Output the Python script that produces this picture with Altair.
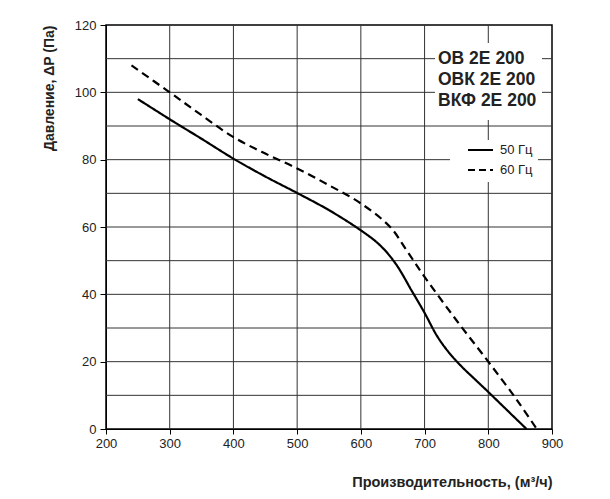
import altair as alt
import pandas as pd

# ---- data ----
q50 = [250, 300, 350, 400, 450, 500, 550, 600, 630, 655, 680, 700, 720, 740, 760, 780, 800, 830, 860]
p50 = [98, 92, 86.2, 80.3, 75, 70.1, 65, 59, 54.6, 49, 41, 34.5, 27.5, 22.3, 18.2, 14.6, 11, 5.5, 0]
q60 = [240, 300, 350, 400, 450, 500, 550, 600, 646, 672, 700, 750, 800, 845, 876]
p60 = [108, 100, 93.2, 86.7, 81.8, 77.4, 72.4, 67, 60, 53, 45.2, 32.3, 20, 8.6, 0]
series = ["50 Гц", "60 Гц"]
models = ["ОВ 2Е 200", "ОВК 2Е 200", "ВКФ 2Е 200"]
x_ticks = [200, 300, 400, 500, 600, 700, 800, 900]
y_ticks = [0, 20, 40, 60, 80, 100, 120]
x_grid = [300, 400, 500, 600, 700, 800]
y_grid = [10, 20, 30, 40, 50, 60, 70, 80, 90, 100, 110]

FONT = "Liberation Sans"
W, H = 446, 404

curves = pd.DataFrame(
    {"q": q50 + q60, "p": p50 + p60, "s": [series[0]] * len(q50) + [series[1]] * len(q60)}
)

xscale = alt.Scale(domain=[200, 900], nice=False, zero=False)
yscale = alt.Scale(domain=[0, 120], nice=False)
xaxis = alt.Axis(values=x_ticks, grid=False, tickSize=5, labelPadding=3, labelFontSize=13,
                 labelColor="#222", labelFont=FONT, domainColor="black", tickColor="black",
                 titleAnchor="end", titleFont=FONT, titleFontSize=14.5, titleFontWeight="bold",
                 titleColor="#222", titlePadding=25, labelFlush=False)
yaxis = alt.Axis(values=y_ticks, grid=False, tickSize=6, labelPadding=4, labelFontSize=13,
                 labelColor="#222", labelFont=FONT, domainColor="black", tickColor="black",
                 titleAnchor="end", titleFont=FONT, titleFontSize=14, titleFontWeight="bold",
                 titleColor="#222", titlePadding=18)

X = alt.X("q:Q", scale=xscale, axis=xaxis, title="Производительность, (м³/ч)")
Y = alt.Y("p:Q", scale=yscale, axis=yaxis, title="Давление, ΔP (Па)")

vgrid = alt.Chart(pd.DataFrame({"q": x_grid})).mark_rule(color="#333", strokeWidth=1).encode(x=X)
hgrid = alt.Chart(pd.DataFrame({"p": y_grid})).mark_rule(color="#333", strokeWidth=1).encode(y=Y)

one = pd.DataFrame({"a": [0]})
box1 = alt.Chart(one).mark_rect(fill="white").encode(
    x=alt.value(329), x2=alt.value(436), y=alt.value(18), y2=alt.value(95))
box2 = alt.Chart(one).mark_rect(fill="white").encode(
    x=alt.value(344), x2=alt.value(432), y=alt.value(115), y2=alt.value(157))

texts = []
for i, m in enumerate(models):
    texts.append(
        alt.Chart(one).mark_text(align="left", baseline="middle", fontSize=17.5, fontWeight="bold",
                                 font=FONT, color="#222", text=m)
        .encode(x=alt.value(332), y=alt.value(34 + 21 * i))
    )

dash_scale = alt.Scale(domain=series, range=[[1, 0], [8, 5]])
lines = alt.Chart(curves).mark_line(color="black", strokeWidth=2.2, interpolate="catmull-rom").encode(
    x=X, y=Y, strokeDash=alt.StrokeDash("s:N", scale=dash_scale, legend=None), detail="s:N"
)

leg = []
for i, s in enumerate(series):
    leg.append(
        alt.Chart(one).mark_rule(color="black", strokeWidth=2.2, strokeDash=[1, 0] if i == 0 else [7, 4])
        .encode(x=alt.value(362), x2=alt.value(387), y=alt.value(125 + 20 * i))
    )
    leg.append(
        alt.Chart(one).mark_text(align="left", baseline="middle", fontSize=13, font=FONT,
                                 color="#222", text=s)
        .encode(x=alt.value(394), y=alt.value(125 + 20 * i))
    )

chart = alt.layer(vgrid, hgrid, box1, box2, *texts, lines, *leg).properties(
    width=W, height=H,
    autosize=alt.AutoSizeParams(type="none"),
    padding={"left": 98, "top": 17, "right": 40, "bottom": 62},
).configure_view(stroke="black", strokeWidth=1.5)

chart.save("out.html", embed_options={"renderer": "svg", "actions": False})
